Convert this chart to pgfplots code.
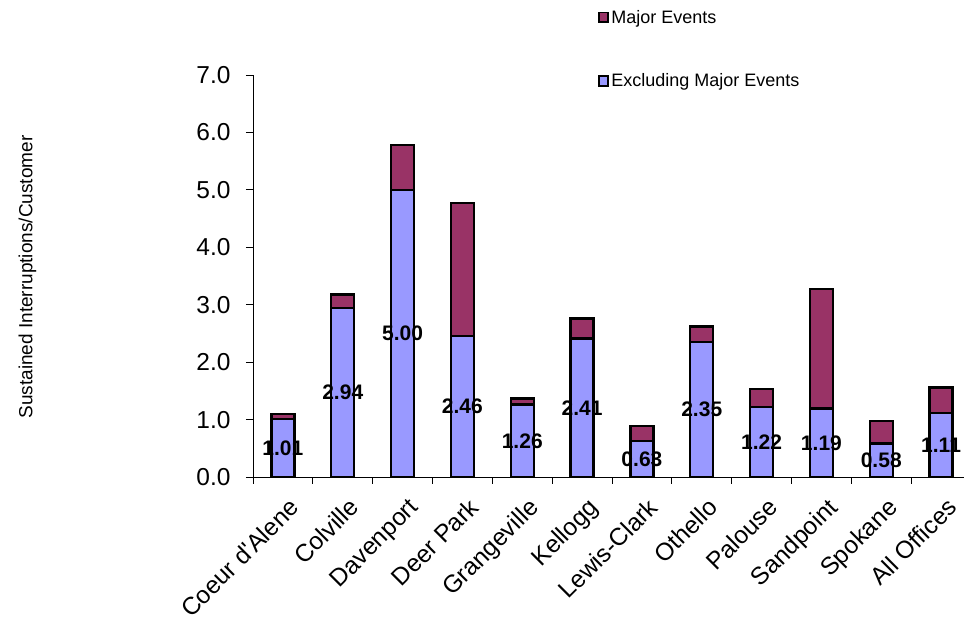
\documentclass[border=0pt]{standalone}
\usepackage{pgfplots}
\pgfplotsset{compat=1.18}
\usepackage{fontspec}
\setmainfont{Liberation Sans}
\definecolor{exc}{HTML}{9999FF}
\definecolor{maj}{HTML}{993366}
\begin{document}
\begin{tikzpicture}[x=1pt,y=1pt]
\path[use as bounding box] (0,0) rectangle (964,626);
\begin{axis}[
  at={(253pt,149pt)}, anchor=south west,
  scale only axis, width=718pt, height=402pt,
  ybar stacked, bar width=23pt,
  xmin=-0.5, xmax=11.5, ymin=0, ymax=7,
  axis lines=left, axis line style={-, line width=0.8pt, black},
  tick align=outside,
  xtick={0,...,11},
  xticklabels={Coeur d\textquotesingle Alene, Colville, Davenport, Deer Park, Grangeville, Kellogg, Lewis-Clark, Othello, Palouse, Sandpoint, Spokane, All Offices},
  minor xtick={-0.5,0.5,...,11.5},
  major x tick style={draw=none},
  minor x tick style={black, line width=0.8pt},
  y tick style={black, line width=0.8pt},
  major tick length=7pt, minor tick length=7pt,
  ytick={0,...,7},
  /pgf/number format/assume math mode=true,
  /pgf/number format/fixed,
  /pgf/number format/fixed zerofill,
  /pgf/number format/precision=1,
  ticklabel style={font=\fontsize{24.5}{27}\selectfont},
  yticklabel style={xshift=-12pt},
  xticklabel style={rotate=45, anchor=north east, xshift=-2pt, yshift=-9pt},
  ylabel={Sustained Interruptions/Customer},
  every axis y label/.style={at={(axis description cs:-0.314,0.4975)}, rotate=90, anchor=center, font=\fontsize{19}{22}\selectfont},
  reverse legend,
  legend cell align=left,
  legend style={draw=none, fill=none, at={(axis description cs:0.476,1.172)}, anchor=north west, font=\fontsize{18}{21}\selectfont, row sep=45pt},
]
\addplot[fill=exc, draw=black, line width=2.4pt, area legend,
  legend image code/.code={\draw[fill=exc, draw=black, line width=1.8pt] (0pt,-4.8pt) rectangle (9.5pt,4.8pt);}]
  coordinates {(0,1.01) (1,2.94) (2,5.00) (3,2.46) (4,1.26) (5,2.41) (6,0.63) (7,2.35) (8,1.22) (9,1.19) (10,0.58) (11,1.11)};
\addlegendentry{Excluding Major Events}
\addplot[fill=maj, draw=black, line width=2.4pt, area legend,
  legend image code/.code={\draw[fill=maj, draw=black, line width=1.8pt] (0pt,-4.8pt) rectangle (9.5pt,4.8pt);}]
  coordinates {(0,0.09) (1,0.24) (2,0.78) (3,2.31) (4,0.11) (5,0.35) (6,0.26) (7,0.27) (8,0.31) (9,2.08) (10,0.40) (11,0.45)};
\addlegendentry{Major Events}
\end{axis}
\begin{axis}[
  at={(253pt,149pt)}, anchor=south west,
  scale only axis, width=718pt, height=402pt,
  xmin=-0.5, xmax=11.5, ymin=0, ymax=7,
  hide axis, clip=false,
]
\addplot[only marks, mark=*, mark size=0pt, mark options={draw=none, fill=none},
  nodes near coords, point meta=explicit symbolic,
  every node near coord/.append style={anchor=center, font=\bfseries\fontsize{21}{24}\selectfont}]
  coordinates {(0,0.505)[1.01] (1,1.47)[2.94] (2,2.50)[5.00] (3,1.23)[2.46] (4,0.63)[1.26] (5,1.205)[2.41] (6,0.315)[0.63] (7,1.175)[2.35] (8,0.61)[1.22] (9,0.595)[1.19] (10,0.29)[0.58] (11,0.555)[1.11]};
\end{axis}
\end{tikzpicture}
\end{document}
